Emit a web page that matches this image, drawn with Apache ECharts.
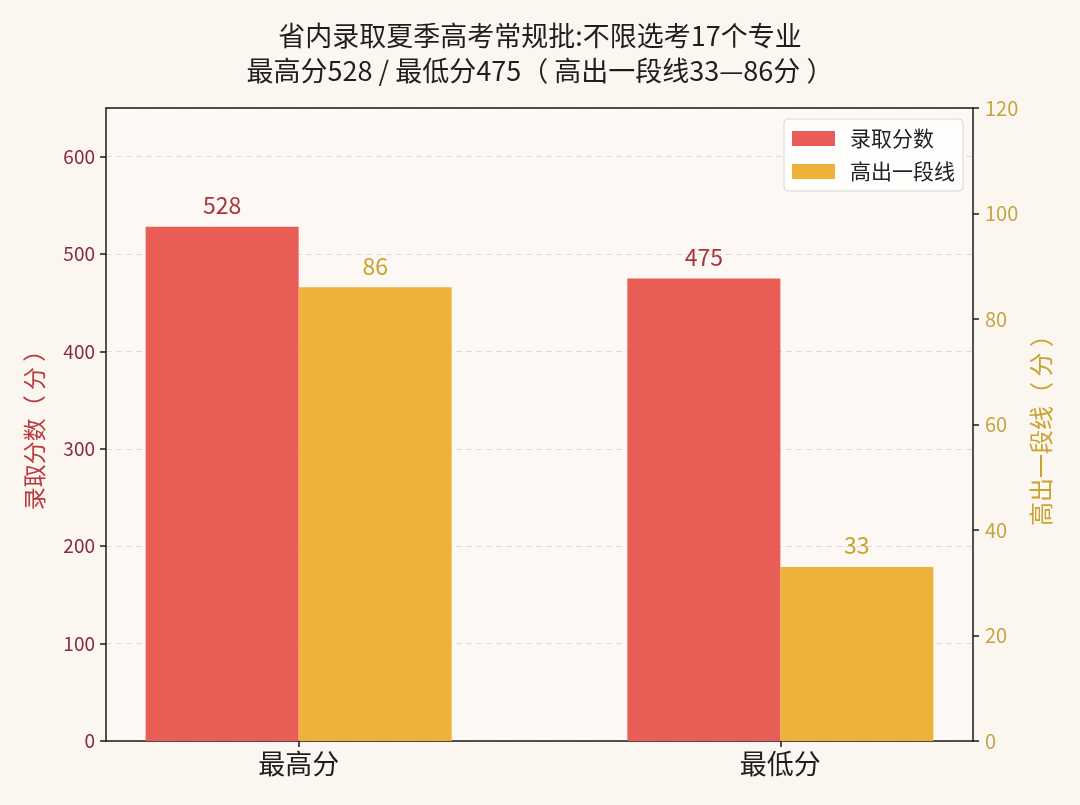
<!DOCTYPE html>
<html>
<head>
<meta charset="utf-8">
<script src="https://cdn.jsdelivr.net/npm/echarts@6/dist/echarts.min.js"></script>
<style>
html, body { margin: 0; padding: 0; background: #fcf6f0; }
#chartmain { width: 1080px; height: 805px; }
</style>
</head>
<body>
<div id="chartmain"></div>
<script>
var categories = ['最高分', '最低分'];
var scoreValues = [528, 475];
var aboveLineValues = [86, 33];
var seriesNames = ['录取分数', '高出一段线'];

(function() {
    var FONT = '"Noto Sans CJK SC", "Noto Sans", sans-serif';
    var red = '#e85d55';
    var gold = '#eeb23b';

    function pairs(vals) {
        var out = [];
        for (var i = 0; i < vals.length; i++) {
            out.push([i, vals[i]]);
        }
        return out;
    }

    var option = {
        backgroundColor: '#fcf6f0',
        textStyle: { fontFamily: FONT },
        title: {
            text: '省内录取夏季高考常规批:不限选考17个专业\n最高分528 / 最低分475（ 高出一段线33—86分 ）',
            left: 'center',
            top: 13,
            textStyle: {
                fontFamily: FONT,
                fontSize: 27,
                fontWeight: 'normal',
                color: '#1e1e1e',
                lineHeight: 35
            }
        },
        legend: {
            orient: 'vertical',
            right: 117,
            top: 119,
            itemWidth: 43,
            itemHeight: 15,
            itemGap: 12,
            icon: 'rect',
            padding: [9, 8, 9, 8],
            backgroundColor: 'rgba(255,255,255,0.8)',
            borderColor: '#d6d6d6',
            borderWidth: 1,
            borderRadius: 4,
            textStyle: { fontFamily: FONT, fontSize: 21, color: '#222', padding: [0, 0, 0, 10] },
            data: seriesNames
        },
        grid: {
            left: 106,
            right: 107,
            top: 108,
            bottom: 64,
            show: true,
            backgroundColor: '#fdf8f4',
            borderWidth: 0
        },
        xAxis: [{
            type: 'value',
            min: -0.4,
            max: 1.4,
            position: 'bottom',
            splitLine: { show: false },
            axisLine: { show: true, onZero: false, lineStyle: { color: '#1a1a1a', width: 1.5 } },
            axisTick: {
                show: true,
                customValues: [0, 1],
                length: 6,
                lineStyle: { color: '#1a1a1a', width: 1.5 }
            },
            axisLabel: {
                customValues: [0, 1],
                fontFamily: FONT,
                fontSize: 27,
                color: '#1e1e1e',
                margin: 9,
                formatter: function(v) {
                    return categories[Math.round(v)];
                }
            }
        }, {
            type: 'value',
            min: -0.4,
            max: 1.4,
            position: 'top',
            z: 5,
            splitLine: { show: false },
            axisLine: { show: true, onZero: false, lineStyle: { color: '#1a1a1a', width: 1.5 } },
            axisTick: { show: false },
            axisLabel: { show: false }
        }],
        yAxis: [{
            type: 'value',
            min: 0,
            max: 650,
            interval: 100,
            position: 'left',
            name: '录取分数（ 分 ）',
            nameLocation: 'middle',
            nameRotate: 90,
            nameGap: 60,
            nameTextStyle: { fontFamily: FONT, fontSize: 23, color: '#b83a3e' },
            axisLine: { show: true, onZero: false, lineStyle: { color: '#1a1a1a', width: 1.5 } },
            axisTick: { show: true, length: 6, lineStyle: { color: '#1a1a1a', width: 1.5 } },
            axisLabel: {
                showMaxLabel: false,
                fontFamily: FONT,
                fontSize: 19,
                color: '#8a2d3a',
                margin: 11
            },
            splitLine: {
                show: true,
                lineStyle: { color: '#dcdcdc', type: [6, 4], width: 1 }
            }
        }, {
            type: 'value',
            min: 0,
            max: 120,
            interval: 20,
            position: 'right',
            name: '高出一段线（ 分 ）',
            nameLocation: 'middle',
            nameRotate: 90,
            nameGap: 56,
            nameTextStyle: { fontFamily: FONT, fontSize: 24, color: '#c9a32f' },
            axisLine: { show: true, onZero: false, lineStyle: { color: '#1a1a1a', width: 1.5 } },
            axisTick: { show: true, length: 6, lineStyle: { color: '#1a1a1a', width: 1.5 } },
            axisLabel: {
                fontFamily: FONT,
                fontSize: 20,
                color: '#c5a443',
                margin: 12
            },
            splitLine: { show: false }
        }],
        series: [{
            name: seriesNames[0],
            type: 'bar',
            yAxisIndex: 0,
            barWidth: 153,
            barGap: '0%',
            itemStyle: { color: red },
            label: {
                show: true,
                position: 'top',
                distance: 10,
                fontFamily: FONT,
                fontSize: 23,
                color: '#a8343a',
                formatter: function(p) { return p.value[1]; }
            },
            data: pairs(scoreValues)
        }, {
            name: seriesNames[1],
            type: 'bar',
            yAxisIndex: 1,
            barWidth: 153,
            barGap: '0%',
            itemStyle: { color: gold },
            label: {
                show: true,
                position: 'top',
                distance: 10,
                fontFamily: FONT,
                fontSize: 23,
                color: '#c9a230',
                formatter: function(p) { return p.value[1]; }
            },
            data: pairs(aboveLineValues)
        }]
    };

    var myChart = echarts.init(document.getElementById('chartmain'));
    myChart.setOption(option);
})();
</script>
</body>
</html>
